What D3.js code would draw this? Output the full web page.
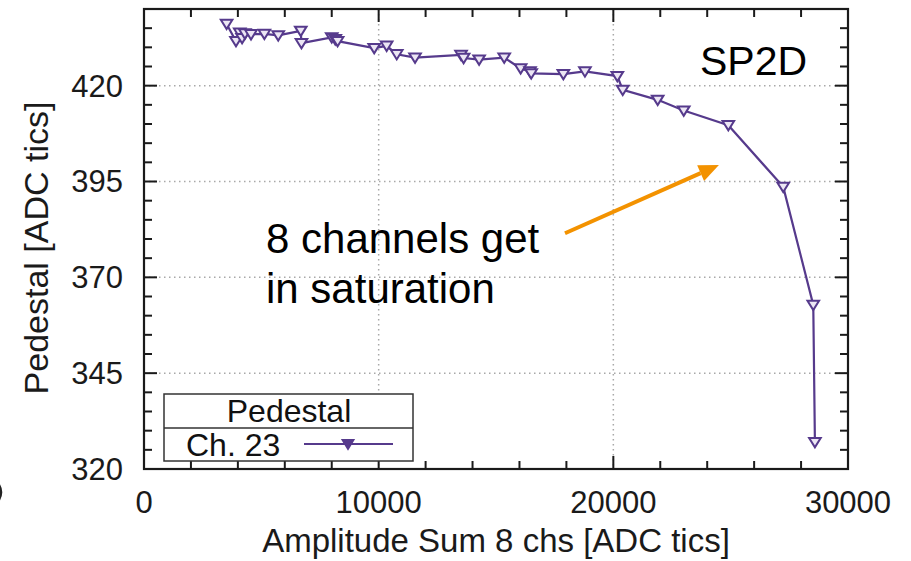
<!DOCTYPE html>
<html>
<head>
<meta charset="utf-8">
<script src="https://cdn.jsdelivr.net/npm/d3@7"></script>
<style>
  html, body { margin: 0; padding: 0; background: #fff; }
  svg { display: block; font-family: "Liberation Sans", Arial, Helvetica, sans-serif; }
</style>
</head>
<body>
<svg id="chart" width="911" height="561"></svg>
<script>
// Pedestal of channel 23 versus the summed amplitude of 8 channels
const amplitudeSum = [
  3520, 3920, 4080, 4180, 4300, 4560, 5130, 5720, 6680, 6710,
  8000, 8150, 8250, 9810, 10340, 10770, 11550, 13510, 13620, 14280,
  15350, 16050, 16450, 16500, 17870, 18790, 20170, 20400, 21890, 23000,
  24900, 27240, 28520, 28590
];
const pedestal = [
  436.1, 431.6, 433.8, 432.4, 433.6, 433.4, 433.5, 433.1, 434.3, 431.1,
  432.6, 432.1, 431.6, 429.8, 430.4, 428.2, 427.3, 428.0, 427.2, 426.8,
  427.3, 424.5, 423.7, 423.2, 423.0, 423.7, 422.5, 418.9, 416.3, 413.5,
  409.7, 393.6, 362.8, 327.0
];
const xTicks = [0, 10000, 20000, 30000];
const yTicks = [320, 345, 370, 395, 420];
const xMinor = d3.range(0, 30001, 2000);
const yMinor = d3.range(320, 441, 5);

const seriesName = "Ch. 23";
const legendTitle = "Pedestal";
const xTitle = "Amplitude Sum 8 chs [ADC tics]";
const yTitle = "Pedestal [ADC tics]";
const tag = "SP2D";
const noteLines = ["8 channels get", "in saturation"];

const purple = "#563a8c";
const orange = "#f39200";

const svg = d3.select("#chart");
const m = { left: 144, right: 63, top: 9, bottom: 92 };
const W = 911, H = 561;
const pw = W - m.left - m.right, ph = H - m.top - m.bottom;

const x = d3.scaleLinear().domain([0, 30000]).range([m.left, m.left + pw]);
const y = d3.scaleLinear().domain([320, 440]).range([m.top + ph, m.top]);

// dotted grid
const grid = svg.append("g").attr("stroke", "#a8a8a8").attr("stroke-width", 1.5)
  .attr("stroke-dasharray", "1.5,3.5");
grid.selectAll(".gx").data(xTicks.filter(d => d > 0 && d < 30000)).join("line")
  .attr("x1", d => x(d)).attr("x2", d => x(d)).attr("y1", m.top).attr("y2", m.top + ph);
grid.selectAll(".gy").data(yTicks.filter(d => d > 320)).join("line")
  .attr("y1", d => y(d)).attr("y2", d => y(d)).attr("x1", m.left).attr("x2", m.left + pw);

// inward ticks on all four sides
function tickLen(isMajor) { return isMajor ? 13 : 8; }
const ticks = svg.append("g").attr("stroke", "#1a1a1a").attr("stroke-width", 2);
xMinor.forEach(v => {
  const L = tickLen(xTicks.includes(v));
  ticks.append("line").attr("x1", x(v)).attr("x2", x(v)).attr("y1", m.top + ph).attr("y2", m.top + ph - L);
  ticks.append("line").attr("x1", x(v)).attr("x2", x(v)).attr("y1", m.top).attr("y2", m.top + L);
});
yMinor.forEach(v => {
  const L = tickLen(yTicks.includes(v));
  ticks.append("line").attr("y1", y(v)).attr("y2", y(v)).attr("x1", m.left).attr("x2", m.left + L);
  ticks.append("line").attr("y1", y(v)).attr("y2", y(v)).attr("x1", m.left + pw).attr("x2", m.left + pw - L);
});

// tick labels
svg.append("g").selectAll("text").data(xTicks).join("text")
  .attr("x", d => x(d)).attr("y", 513).attr("text-anchor", "middle")
  .attr("font-size", 31).attr("fill", "#1a1a1a").text(d => d);
svg.append("g").selectAll("text").data(yTicks).join("text")
  .attr("x", 123).attr("y", d => y(d)).attr("dy", "0.35em").attr("text-anchor", "end")
  .attr("font-size", 31).attr("fill", "#1a1a1a").text(d => d);

// axis titles
svg.append("text").attr("x", x(15000)).attr("y", 552).attr("text-anchor", "middle")
  .attr("font-size", 33).attr("fill", "#1a1a1a").text(xTitle);
svg.append("text").attr("transform", `translate(48,248) rotate(-90)`).attr("text-anchor", "middle")
  .attr("font-size", 34).attr("fill", "#1a1a1a").text(yTitle);

// series line and open down-triangle markers
const pts = amplitudeSum.map((a, i) => [a, pedestal[i]]);
svg.append("path").datum(pts)
  .attr("fill", "none").attr("stroke", purple).attr("stroke-width", 2.2)
  .attr("d", d3.line().x(d => x(d[0])).y(d => y(d[1])));

const tri = "M-5.8,-4.2 L5.8,-4.2 L0,5.2 Z";
svg.append("g").selectAll("path").data(pts).join("path")
  .attr("transform", d => `translate(${x(d[0])},${y(d[1])})`)
  .attr("d", tri).attr("fill", "#ece6f4").attr("stroke", purple).attr("stroke-width", 2);

// frame
svg.append("rect").attr("x", m.left).attr("y", m.top).attr("width", pw).attr("height", ph)
  .attr("fill", "none").attr("stroke", "#1a1a1a").attr("stroke-width", 2.2);

// tag
svg.append("text").attr("x", 700).attr("y", 75).attr("font-size", 41).attr("fill", "#000").text(tag);

// annotation text
svg.append("g").selectAll("text").data(noteLines).join("text")
  .attr("x", 266).attr("y", (d, i) => 253 + i * 50)
  .attr("font-size", 42).attr("fill", "#000").text(d => d);

// arrow pointing at the knee of the curve
const tail = [x(17940), y(381.5)];
const tip = [x(24500), y(399.3)];
const ang = Math.atan2(tip[1] - tail[1], tip[0] - tail[0]);
const headL = 20, headW = 8.5;
const base = [tip[0] - headL * Math.cos(ang), tip[1] - headL * Math.sin(ang)];
svg.append("line").attr("x1", tail[0]).attr("y1", tail[1]).attr("x2", base[0]).attr("y2", base[1])
  .attr("stroke", orange).attr("stroke-width", 4);
svg.append("path").attr("fill", orange).attr("d",
  `M${tip[0]},${tip[1]} L${base[0] + headW * Math.sin(ang)},${base[1] - headW * Math.cos(ang)} L${base[0] - headW * Math.sin(ang)},${base[1] + headW * Math.cos(ang)} Z`);

// legend
const lg = svg.append("g");
lg.append("rect").attr("x", 164).attr("y", 394).attr("width", 249).attr("height", 67)
  .attr("fill", "#fff").attr("stroke", "#333").attr("stroke-width", 1.5);
lg.append("line").attr("x1", 164).attr("x2", 413).attr("y1", 428).attr("y2", 428)
  .attr("stroke", "#333").attr("stroke-width", 1.5);
lg.append("text").attr("x", 289).attr("y", 422).attr("text-anchor", "middle")
  .attr("font-size", 32).attr("fill", "#111").text(legendTitle);
lg.append("text").attr("x", 186).attr("y", 456)
  .attr("font-size", 32).attr("fill", "#111").text(seriesName);
lg.append("line").attr("x1", 304).attr("x2", 393).attr("y1", 444).attr("y2", 444)
  .attr("stroke", purple).attr("stroke-width", 2);
lg.append("path").attr("transform", "translate(348,444)").attr("d", tri)
  .attr("fill", purple).attr("stroke", purple).attr("stroke-width", 1.5);

// edge of a neighbouring panel's glyph at the left border
svg.append("path").attr("d", "M-4,481 Q6,492 -4,504")
  .attr("fill", "none").attr("stroke", "#222").attr("stroke-width", 2.5);
</script>
</body>
</html>
